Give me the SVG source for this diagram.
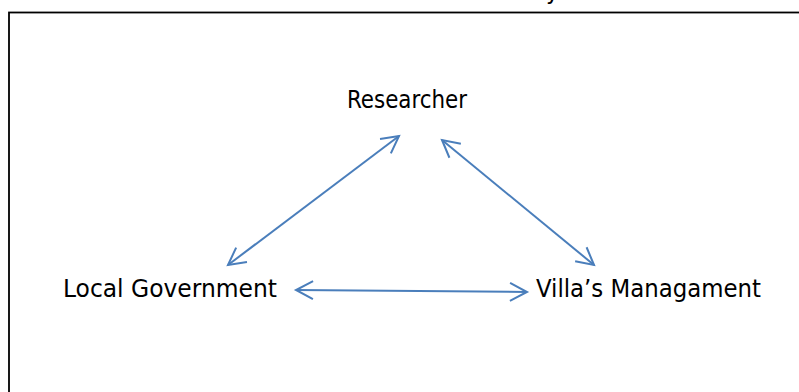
<svg xmlns="http://www.w3.org/2000/svg" width="799" height="392" viewBox="0 0 799 392">
<defs>
<style>
.lbl{font-family:"DejaVu Sans Condensed","DejaVu Sans",sans-serif;font-stretch:condensed;font-size:25px;fill:#000}
.conn{stroke:#4A7EBB;stroke-width:2;fill:none}
</style>
<marker id="ah" viewBox="-20 -12 24 24" refX="0" refY="0" markerWidth="24" markerHeight="24" markerUnits="userSpaceOnUse" orient="auto-start-reverse">
<path d="M-17,-9 L0,0 L-17,9" fill="none" stroke="#4A7EBB" stroke-width="2"/>
</marker>
</defs>
<rect x="0" y="0" width="799" height="392" fill="#fff"/>
<rect x="9" y="12.5" width="800" height="400" fill="none" stroke="#000" stroke-width="1.8"/>
<text class="lbl" x="546" y="-1">y</text>
<g id="researcher"><text class="lbl" x="347" y="108" textLength="120" lengthAdjust="spacingAndGlyphs">Researcher</text></g>
<g id="local-government"><text class="lbl" x="63" y="297" textLength="214" lengthAdjust="spacingAndGlyphs">Local Government</text></g>
<g id="villas-management"><text class="lbl" x="536" y="297" textLength="225" lengthAdjust="spacingAndGlyphs">Villa’s Managament</text></g>
<g id="connectors">
<line class="conn" x1="228" y1="265" x2="399" y2="136" marker-start="url(#ah)" marker-end="url(#ah)"/>
<line class="conn" x1="442" y1="140" x2="594" y2="265" marker-start="url(#ah)" marker-end="url(#ah)"/>
<line class="conn" x1="296" y1="290" x2="527" y2="292" marker-start="url(#ah)" marker-end="url(#ah)"/>
</g>
</svg>
